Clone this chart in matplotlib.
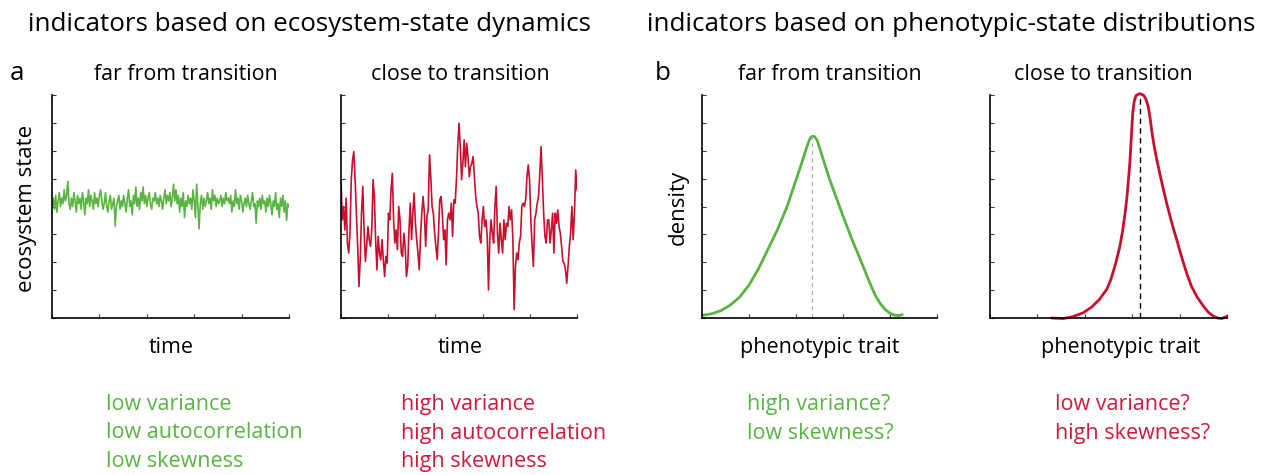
import matplotlib
matplotlib.use("Agg")
import matplotlib.pyplot as plt
import numpy as np

#========================================================================================
# data
# ecosystem state, far from transition (green, small fluctuations)
green_state = [4.0, 4.3, 3.9, 4.4, 3.8, 4.2, 4.5, 4.0, 4.3, 4.1, 4.6, 4.2, 4.4, 4.9, 4.1, 3.9, 4.3, 4.0, 4.5, 4.2,
               3.8, 4.4, 4.1, 4.3, 3.9, 4.5, 4.2, 3.7, 4.3, 4.1, 4.6, 4.0, 4.4, 4.2, 3.9, 4.5, 4.1, 4.3, 4.0, 4.4,
               4.6, 4.2, 3.9, 4.1, 4.5, 4.0, 3.8, 4.2, 4.4, 3.9, 4.1, 4.3, 3.3, 4.0, 4.2, 4.4, 3.9, 4.2, 4.0, 4.4,
               4.1, 3.8, 4.3, 4.6, 4.0, 4.2, 3.7, 4.4, 4.1, 4.7, 4.0, 4.3, 3.9, 4.5, 4.2, 4.7, 4.1, 4.4, 4.0, 4.3,
               4.5, 4.1, 3.9, 4.3, 4.2, 4.5, 4.1, 4.3, 4.0, 4.4, 4.2, 3.9, 4.3, 4.6, 4.1, 4.4, 4.2, 4.5, 4.0, 4.3,
               4.8, 4.2, 4.6, 4.1, 4.4, 3.8, 4.3, 4.0, 4.5, 3.6, 4.2, 4.0, 4.4, 4.1, 4.3, 3.9, 4.6, 4.2, 3.6, 4.8,
               4.0, 3.2, 4.1, 4.4, 3.9, 4.3, 4.0, 4.2, 4.5, 4.1, 4.3, 3.9, 4.6, 4.2, 4.4, 4.0, 4.3, 4.1, 4.2, 4.4,
               4.0, 4.3, 4.1, 4.5, 4.2, 4.3, 4.1, 4.4, 3.8, 4.2, 4.0, 4.6, 4.1, 4.3, 3.9, 4.4, 4.2, 3.8, 4.1, 4.3,
               4.0, 4.4, 4.1, 3.9, 4.2, 4.5, 4.0, 4.1, 3.4, 4.2, 4.0, 4.3, 3.9, 4.4, 4.1, 4.2, 3.8, 4.3, 4.0, 4.4,
               4.1, 3.7, 4.2, 4.0, 4.5, 3.9, 4.1, 3.6, 4.3, 4.0, 4.4, 3.8, 4.2, 3.5, 4.1, 4.0]

# ecosystem state, close to transition (red, large slow fluctuations)
red_state = [4.96, 3.52, 4.00, 3.16, 4.30, 2.69, 2.33, 3.04, 4.96, 5.67, 5.97, 4.96, 3.76, 2.57, 1.13, 2.09,
             3.76, 4.72, 3.16, 2.03, 2.57, 3.28, 2.81, 2.57, 3.16, 4.96, 4.36, 2.81, 1.73, 2.93, 2.33, 2.09,
             2.81, 2.09, 1.49, 2.21, 1.97, 3.76, 3.52, 4.60, 5.19, 3.52, 2.69, 3.16, 2.45, 4.00, 3.52, 2.33,
             2.21, 3.04, 2.57, 1.49, 1.85, 3.16, 4.12, 2.81, 3.76, 4.48, 3.40, 2.81, 2.33, 1.73, 2.93, 3.76,
             4.36, 3.76, 2.57, 3.64, 3.88, 5.85, 5.07, 4.00, 3.76, 3.04, 2.57, 2.09, 3.04, 4.24, 4.36, 3.76,
             2.81, 3.16, 1.91, 3.52, 3.76, 3.52, 4.12, 2.93, 4.24, 4.12, 4.96, 6.15, 6.99, 6.15, 4.96, 5.55,
             6.39, 5.43, 6.27, 5.79, 5.07, 5.43, 5.55, 5.79, 5.07, 4.36, 4.00, 3.76, 2.93, 2.69, 3.52, 4.00,
             3.28, 3.52, 2.93, 1.01, 2.81, 3.52, 3.04, 2.69, 4.00, 4.72, 3.04, 2.33, 3.40, 2.81, 2.33, 3.52,
             2.81, 3.40, 3.28, 4.00, 3.52, 3.88, 2.81, 0.30, 1.85, 2.33, 2.09, 2.69, 2.93, 4.00, 4.12, 4.00,
             4.24, 5.07, 5.49, 4.96, 3.52, 2.57, 1.85, 3.52, 3.76, 4.12, 4.36, 5.19, 6.15, 4.96, 3.76, 2.93,
             2.69, 3.52, 3.52, 2.69, 3.16, 3.76, 2.33, 3.76, 3.40, 3.88, 3.28, 3.04, 2.57, 2.03, 1.97, 1.73,
             1.25, 1.85, 2.57, 3.04, 4.00, 2.81, 3.76, 5.31, 4.60]

# phenotypic trait distributions
green_trait = [0.03, 0.20, 0.40, 0.60, 0.80, 1.00, 1.20, 1.40, 1.60, 1.80, 2.00, 2.10, 2.20, 2.27, 2.31, 2.35,
               2.40, 2.45, 2.50, 2.60, 2.70, 2.80, 2.90, 3.00, 3.10, 3.20, 3.30, 3.40, 3.50, 3.60, 3.70, 3.80,
               3.90, 4.00, 4.10, 4.20, 4.26]
green_density = [0.10, 0.15, 0.26, 0.46, 0.75, 1.18, 1.76, 2.45, 3.15, 3.95, 4.95, 5.45, 5.98, 6.33, 6.47, 6.52,
                 6.50, 6.38, 6.12, 5.58, 5.05, 4.58, 4.12, 3.66, 3.22, 2.78, 2.38, 1.97, 1.55, 1.14, 0.77, 0.50,
                 0.30, 0.17, 0.10, 0.09, 0.12]
green_mode = 2.35

red_trait = [1.30, 1.55, 1.75, 1.97, 2.15, 2.30, 2.46, 2.55, 2.65, 2.74, 2.80, 2.85, 2.89, 2.92, 2.95, 2.97,
             2.99, 3.01, 3.04, 3.08, 3.16, 3.24, 3.29, 3.34, 3.38, 3.41, 3.46, 3.52, 3.59, 3.66, 3.73, 3.80,
             3.87, 3.94, 4.01, 4.08, 4.16, 4.25, 4.37, 4.50, 4.61, 4.71, 4.80, 4.89, 5.00]
red_density = [0.00, -0.02, 0.05, 0.19, 0.40, 0.65, 1.02, 1.38, 1.95, 2.57, 3.15, 3.76, 4.35, 4.95, 5.55, 6.14,
               6.75, 7.33, 7.75, 7.98, 8.05, 7.99, 7.85, 7.57, 7.15, 6.74, 6.20, 5.67, 5.12, 4.60, 4.10, 3.64,
               3.20, 2.81, 2.38, 1.98, 1.55, 1.14, 0.75, 0.43, 0.20, 0.07, 0.00, -0.02, 0.06]
red_mode = 3.16

GREEN = "#5ab443"
RED = "#c8102e"
RED_TXT = "#d01a3c"
#========================================================================================

W, H = 1271, 475
plt.rcParams['font.family'] = ['Open Sans', 'DejaVu Sans']

fig = plt.figure(figsize=(W / 100, H / 100), dpi=100)


def px(x, y):
    return x / W, 1 - y / H


def make_ax(left, right):
    ax = fig.add_axes([left / W, 1 - 318 / H, (right - left) / W, (318 - 95) / H])
    ax.set_xlim(0, 5)
    ax.set_ylim(0, 8)
    ax.set_xticks(np.arange(6))
    ax.set_yticks(np.arange(9))
    ax.set_xticklabels([])
    ax.set_yticklabels([])
    ax.tick_params(direction="in", length=3, width=0.8, color="#333333")
    for s in ["top", "right"]:
        ax.spines[s].set_visible(False)
    for s in ["left", "bottom"]:
        ax.spines[s].set_linewidth(1.2)
    return ax


ax1 = make_ax(52, 289)
ax1.plot(np.linspace(0, 5, len(green_state)), green_state, color=GREEN, lw=1.2)

ax2 = make_ax(341, 577)
ax2.plot(np.linspace(0, 5, len(red_state)), red_state, color=RED, lw=1.2)

ax3 = make_ax(702, 937)
ax3.plot(green_trait, green_density, color=GREEN, lw=2.0, solid_capstyle="round", clip_on=False)
ax3.plot([green_mode, green_mode], [0, max(green_density)], color="#aaaaaa", lw=0.8, ls=(0, (4, 3)))

ax4 = make_ax(990, 1227)
ax4.plot(red_trait, red_density, color=RED, lw=2.0, solid_capstyle="round", clip_on=False)
ax4.plot([red_mode, red_mode], [0, max(red_density)], color="black", lw=1.0, ls=(0, (4, 3)))

# headings
fig.text(*px(28, 31), "indicators based on ecosystem-state dynamics", fontsize=18.7, va="baseline")
fig.text(*px(647, 31), "indicators based on phenotypic-state distributions", fontsize=18.7, va="baseline")
fig.text(*px(10, 80), "a", fontsize=18.7, va="baseline")
fig.text(*px(655, 80), "b", fontsize=18.7, va="baseline")
for xc, t in [(186, "far from transition"), (460, "close to transition"),
              (830, "far from transition"), (1103, "close to transition")]:
    fig.text(*px(xc, 80), t, fontsize=15.4, va="baseline", ha="center")

# axis labels
fig.text(*px(171, 353), "time", fontsize=15.5, va="baseline", ha="center")
fig.text(*px(460, 353), "time", fontsize=15.5, va="baseline", ha="center")
fig.text(*px(820, 353), "phenotypic trait", fontsize=15.5, va="baseline", ha="center")
fig.text(*px(1121, 353), "phenotypic trait", fontsize=15.5, va="baseline", ha="center")
fig.text(*px(27, 208), "ecosystem state", fontsize=16, va="center", ha="center", rotation=90)
fig.text(*px(678, 207), "density", fontsize=16, va="center", ha="center", rotation=90)

# indicator summaries
for i, t in enumerate(["low variance", "low autocorrelation", "low skewness"]):
    fig.text(*px(106, 410 + 28.5 * i), t, fontsize=15.5, va="baseline", color=GREEN)
for i, t in enumerate(["high variance", "high autocorrelation", "high skewness"]):
    fig.text(*px(401, 410 + 28.5 * i), t, fontsize=15.5, va="baseline", color=RED_TXT)
for i, t in enumerate(["high variance?", "low skewness?"]):
    fig.text(*px(747, 410 + 29 * i), t, fontsize=15.5, va="baseline", color=GREEN)
for i, t in enumerate(["low variance?", "high skewness?"]):
    fig.text(*px(1055, 410 + 29 * i), t, fontsize=15.5, va="baseline", color=RED_TXT)

fig.savefig("out.png", dpi=100)
